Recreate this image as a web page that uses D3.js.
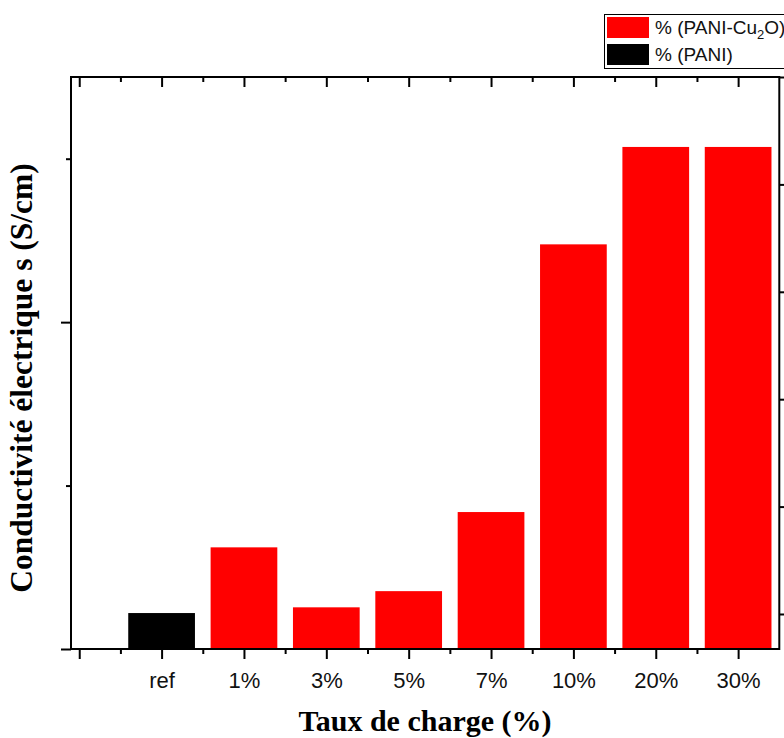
<!DOCTYPE html>
<html>
<head>
<meta charset="utf-8">
<script src="https://cdn.jsdelivr.net/npm/d3@7"></script>
<style>
  html, body { margin: 0; padding: 0; background: #fff; }
  svg { display: block; }
</style>
</head>
<body>
<svg id="chart" width="784" height="738"></svg>
<script>
// Filler content (%) and measured conductivity for each sample
const categories = ["ref", "1%", "3%", "5%", "7%", "10%", "20%", "30%"];
const conductivity = [0.220, 0.622, 0.255, 0.354, 0.838, 2.476, 3.072, 3.072];
const material = ["PANI", "PANI-Cu2O", "PANI-Cu2O", "PANI-Cu2O", "PANI-Cu2O", "PANI-Cu2O", "PANI-Cu2O", "PANI-Cu2O"];

// Legend entries
const legendKeys = ["PANI-Cu2O", "PANI"];
const legendColors = ["#ff0000", "#000000"];

// Axis tick values (no numeric labels are shown on the value axes)
const leftMajor = [0, 2];
const leftMinor = [1, 3];
const rightTicks = [0, 1, 2, 3, 4, 5];
const bottomMajor = [0, 1, 2, 3, 4, 5, 6, 7, 8];
const bottomMinor = [0.5, 1.5, 2.5, 3.5, 4.5, 5.5, 6.5, 7.5];

const svg = d3.select("#chart");
const plot = { left: 71, right: 779.3, top: 77, bottom: 649 };

const x = d3.scaleLinear().domain([-0.1, 8.5]).range([plot.left, plot.right]);
const y = d3.scaleLinear().domain([0, 3.5]).range([plot.bottom, plot.top]);
const yRight = d3.scaleLinear().domain([-0.326, 5]).range([plot.bottom, plot.top]);
const color = d3.scaleOrdinal().domain(legendKeys).range(legendColors);

const barWidth = x(0.81) - x(0);

// Bars
svg.append("g")
  .selectAll("rect")
  .data(categories.map((c, i) => ({ c, i, v: conductivity[i], m: material[i] })))
  .join("rect")
  .attr("x", d => x(d.i + 1) - barWidth / 2)
  .attr("width", barWidth)
  .attr("y", d => y(d.v))
  .attr("height", d => y(0) - y(d.v))
  .attr("fill", d => color(d.m));

function styleAxis(g) {
  g.selectAll("path.domain").remove();
  g.selectAll("line").attr("stroke", "#000").attr("stroke-width", 2);
}

// Bottom axis: major ticks with category labels, minor ticks between
const gBottom = svg.append("g").attr("transform", `translate(0,${plot.bottom})`)
  .call(d3.axisBottom(x).tickValues(bottomMajor).tickSize(10)
    .tickFormat(d => d === 0 ? "" : categories[d - 1]))
  .call(styleAxis);
gBottom.selectAll("text")
  .attr("y", 39).attr("dy", null)
  .attr("font-family", "'Liberation Sans', Arial, sans-serif")
  .attr("font-size", 22)
  .attr("fill", "#111");
svg.append("g").attr("transform", `translate(0,${plot.bottom})`)
  .call(d3.axisBottom(x).tickValues(bottomMinor).tickSize(5).tickFormat(""))
  .call(styleAxis);

// Top axis: inward ticks only
svg.append("g").attr("transform", `translate(0,${plot.top})`)
  .call(d3.axisTop(x).tickValues(bottomMajor).tickSize(-10).tickFormat(""))
  .call(styleAxis);
svg.append("g").attr("transform", `translate(0,${plot.top})`)
  .call(d3.axisTop(x).tickValues(bottomMinor).tickSize(-5).tickFormat(""))
  .call(styleAxis);

// Left axis: outward ticks, no labels
svg.append("g").attr("transform", `translate(${plot.left},0)`)
  .call(d3.axisLeft(y).tickValues(leftMajor).tickSize(10).tickFormat(""))
  .call(styleAxis);
svg.append("g").attr("transform", `translate(${plot.left},0)`)
  .call(d3.axisLeft(y).tickValues(leftMinor).tickSize(5).tickFormat(""))
  .call(styleAxis);

// Right axis: outward ticks
svg.append("g").attr("transform", `translate(${plot.right},0)`)
  .call(d3.axisRight(yRight).tickValues(rightTicks).tickSize(8).tickFormat(""))
  .call(styleAxis);

// Frame
svg.append("rect")
  .attr("x", plot.left).attr("y", plot.top)
  .attr("width", plot.right - plot.left).attr("height", plot.bottom - plot.top)
  .attr("fill", "none").attr("stroke", "#000").attr("stroke-width", 2);

// Axis titles
svg.append("text")
  .attr("transform", "translate(32,378) rotate(-90)")
  .attr("text-anchor", "middle")
  .attr("font-family", "'Liberation Serif', 'Times New Roman', serif")
  .attr("font-weight", "bold")
  .attr("font-size", 31.5)
  .text("Conductivité électrique s (S/cm)");

svg.append("text")
  .attr("x", 425).attr("y", 731)
  .attr("text-anchor", "middle")
  .attr("font-family", "'Liberation Serif', 'Times New Roman', serif")
  .attr("font-weight", "bold")
  .attr("font-size", 30)
  .text("Taux de charge (%)");

// Legend
const legend = svg.append("g");
legend.append("rect")
  .attr("x", 604.5).attr("y", 14.5).attr("width", 200).attr("height", 54)
  .attr("fill", "#fff").attr("stroke", "#000").attr("stroke-width", 1);
legendKeys.forEach((k, i) => {
  const row = legend.append("g").attr("transform", `translate(0,${i * 27})`);
  row.append("rect")
    .attr("x", 607).attr("y", 17).attr("width", 42).attr("height", 21)
    .attr("fill", color(k));
  const t = row.append("text")
    .attr("x", 655).attr("y", 34)
    .attr("font-family", "'Liberation Sans', Arial, sans-serif")
    .attr("font-size", 19)
    .attr("fill", "#111");
  if (k === "PANI-Cu2O") {
    t.append("tspan").text("% (PANI-Cu");
    t.append("tspan").attr("dy", 5).attr("font-size", 13).text("2");
    t.append("tspan").attr("dy", -5).text("O)");
  } else {
    t.text("% (PANI)");
  }
});
</script>
</body>
</html>
